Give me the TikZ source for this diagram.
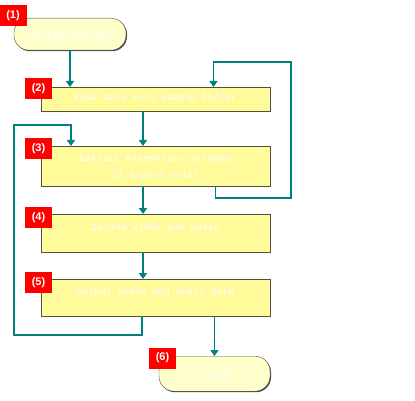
\documentclass[tikz,border=0pt]{standalone}
\usepackage{fontspec}
\setmonofont{Liberation Mono}
\setsansfont{Liberation Sans}
\usepackage{xcolor}
\usetikzlibrary{positioning,calc,arrows.meta,shadows}
\definecolor{flowteal}{HTML}{008080}
\definecolor{boxyellow}{HTML}{FFFA9A}
\definecolor{endyellow}{HTML}{FFFFCC}
\definecolor{boxedge}{HTML}{505040}

\begin{document}
\begin{tikzpicture}[x=1pt, y=-1pt,
    stepbox/.style={draw=boxedge, fill=boxyellow, inner sep=0pt, minimum width=229pt,
        anchor=north, text=white, font=\ttfamily\fontsize{9.7}{16}\selectfont,
        drop shadow={shadow xshift=1pt, shadow yshift=-1pt, fill=black!75, opacity=1}},
    endbox/.style={stepbox, fill=endyellow, rounded corners=15pt},
    numtag/.style={fill=red, text=white, inner sep=0pt, minimum width=27pt, minimum height=21pt,
        font=\sffamily\bfseries\fontsize{11}{11}\selectfont},
    flow/.style={draw=flowteal, line width=1.6pt, -{Triangle[width=8pt,length=6pt]}}]
    \useasboundingbox (0,0) rectangle (415,401);

    % Start and end
    \node[endbox, minimum width=112pt, text height=19pt, text depth=13pt] (init) at (70,18) {Initialization};
    \node[endbox, minimum width=111pt, text height=21pt, text depth=14pt] (fin) at (214.5,356) {Finish};

    % Processing steps
    \node[stepbox, text height=13pt, text depth=11pt] (b2) at (155.5,87) {Read data into sample buffer};
    \node[stepbox, text height=15pt, text depth=25pt] (b3) at (155.5,146)
        {\begin{tabular}[t]{@{}c@{}}Extract elementary streams\\(1 access unit)\end{tabular}};
    \node[stepbox, text height=16pt, text depth=22pt] (b4) at (155.5,214) {Decode video and audio};
    \node[stepbox, text height=15pt, text depth=22pt] (b5) at (155.5,279) {Output video and audio data};

    % Step numbers
    \node[numtag] (n1) at (13,16) {(1)};
    \node[numtag] (n2) at (38.5,88.5) {(2)};
    \node[numtag] (n3) at (38.5,148.5) {(3)};
    \node[numtag] (n4) at (38.5,217.5) {(4)};
    \node[numtag] (n5) at (38.5,282.5) {(5)};
    \node[numtag] (n6) at (162.5,358) {(6)};

    % Main flow
    \draw[flow] (init) -- (init |- b2.north);
    \draw[flow] ([xshift=-12.5pt]b2.south) -- ([xshift=-12.5pt]b3.north);
    \draw[flow] ([xshift=-12.5pt]b3.south) -- ([xshift=-12.5pt]b4.north);
    \draw[flow] ([xshift=-12.5pt]b4.south) -- ([xshift=-12.5pt]b5.north);
    \draw[flow] (fin |- b5.south) -- (fin);

    % Loops back
    \coordinate (r1) at (291,198);
    \coordinate (r2) at (291,62);
    \draw[flow] ([xshift=60pt]b3.south) |- (r1) -- (r2) -| ([xshift=58pt]b2.north);
    \coordinate (l1) at (14,335);
    \coordinate (l2) at (14,125);
    \draw[flow] ([xshift=-13.5pt]b5.south) |- (l1) -- (l2) -| ([xshift=-84.5pt]b3.north);
\end{tikzpicture}
\end{document}
